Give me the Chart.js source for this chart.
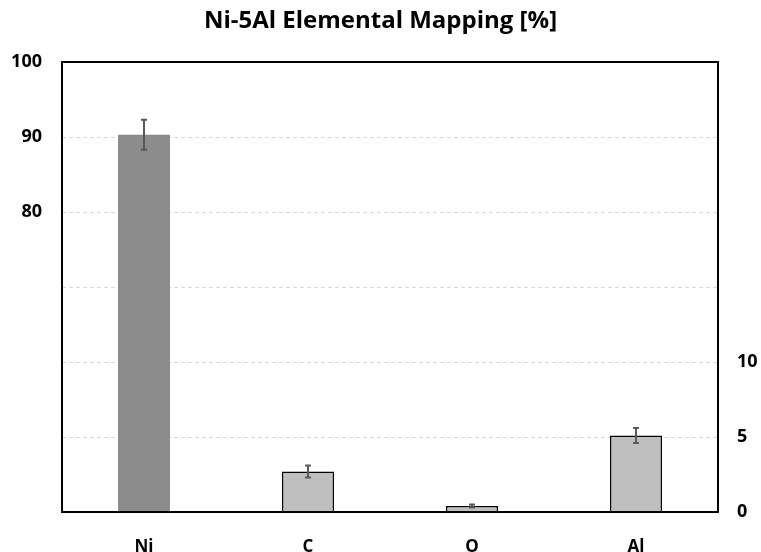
<!DOCTYPE html>
<html>
<head>
<meta charset="utf-8">
<script src="https://cdn.jsdelivr.net/npm/chart.js@4"></script>
<style>
  html, body { margin: 0; padding: 0; background: #fff; }
  #wrap { width: 761px; height: 552px; position: relative; }
</style>
</head>
<body>
<div id="wrap"><canvas id="c"></canvas></div>
<script>
// Element categories and measured composition (%)
const elements = ['Ni', 'C', 'O', 'Al'];
// Ni is read against the upper (left) scale, the minor elements against the lower (right) scale
const niValues = [90.3, null, null, null];
const niErrors = [2.0, null, null, null];
const minorValues = [null, 2.7, 0.4, 5.1];
const minorErrors = [null, 0.4, 0.1, 0.5];
const leftTickLabels = [80, 90, 100];
const rightTickLabels = [0, 5, 10];

const FONT = "'Open Sans', 'Liberation Sans', sans-serif";

const errorBars = {
  id: 'errorBars',
  afterDatasetsDraw(chart) {
    const ctx = chart.ctx;
    const sets = [
      { idx: 0, vals: niValues, errs: niErrors, axis: 'yL' },
      { idx: 1, vals: minorValues, errs: minorErrors, axis: 'yR' }
    ];
    ctx.save();
    ctx.strokeStyle = '#595959';
    ctx.lineWidth = 2;
    sets.forEach(s => {
      const meta = chart.getDatasetMeta(s.idx);
      const scale = chart.scales[s.axis];
      s.vals.forEach((v, i) => {
        if (v == null) return;
        const x = meta.data[i].x;
        const yTop = scale.getPixelForValue(v + s.errs[i]);
        const yBot = scale.getPixelForValue(v - s.errs[i]);
        ctx.beginPath();
        ctx.moveTo(x, yTop); ctx.lineTo(x, yBot);
        ctx.moveTo(x - 3, yTop); ctx.lineTo(x + 3, yTop);
        ctx.moveTo(x - 3, yBot); ctx.lineTo(x + 3, yBot);
        ctx.stroke();
      });
    });
    ctx.restore();
  }
};

const plotFrame = {
  id: 'plotFrame',
  afterDraw(chart) {
    const a = chart.chartArea;
    const ctx = chart.ctx;
    ctx.save();
    ctx.strokeStyle = '#000';
    ctx.lineWidth = 2;
    ctx.strokeRect(a.left, a.top, a.right - a.left, a.bottom - a.top);
    ctx.restore();
  }
};

new Chart(document.getElementById('c'), {
  type: 'bar',
  data: {
    labels: elements,
    datasets: [
      {
        data: niValues,
        yAxisID: 'yL',
        backgroundColor: '#8c8c8c',
        borderWidth: 0
      },
      {
        data: minorValues,
        yAxisID: 'yR',
        backgroundColor: '#bfbfbf',
        borderColor: '#000',
        borderWidth: 1.5
      }
    ]
  },
  options: {
    responsive: true,
    maintainAspectRatio: false,
    animation: false,
    grouped: false,
    barPercentage: 0.317,
    categoryPercentage: 1,
    layout: { padding: 0 },
    plugins: {
      legend: { display: false },
      tooltip: { enabled: false },
      title: {
        display: true,
        text: 'Ni-5Al Elemental Mapping [%]',
        color: '#000',
        font: { family: FONT, size: 24, weight: 'bold' },
        padding: { top: 7, bottom: 26.2 }
      }
    },
    scales: {
      x: {
        grid: { display: false },
        border: { display: false },
        ticks: {
          color: '#000',
          padding: 17,
          font: { family: FONT, size: 17, weight: 'bold' }
        },
        afterFit(s) { s.height = 40; }
      },
      yL: {
        position: 'left',
        min: 40, max: 100,
        grid: { color: '#d9d9d9', drawTicks: false, lineWidth: 1 },
        border: { display: false, dash: [4, 3] },
        ticks: {
          stepSize: 10,
          color: '#000',
          padding: 20,
          font: { family: FONT, size: 18, weight: 'bold' },
          callback: v => leftTickLabels.includes(v) ? v : ''
        },
        afterFit(s) { s.width = 62; }
      },
      yR: {
        position: 'right',
        min: 0, max: 30,
        grid: { display: false, drawTicks: false },
        border: { display: false },
        ticks: {
          stepSize: 5,
          color: '#000',
          padding: 19,
          font: { family: FONT, size: 18, weight: 'bold' },
          callback: v => rightTickLabels.includes(v) ? v : ''
        },
        afterFit(s) { s.width = 43; }
      }
    }
  },
  plugins: [errorBars, plotFrame]
});
</script>
</body>
</html>
